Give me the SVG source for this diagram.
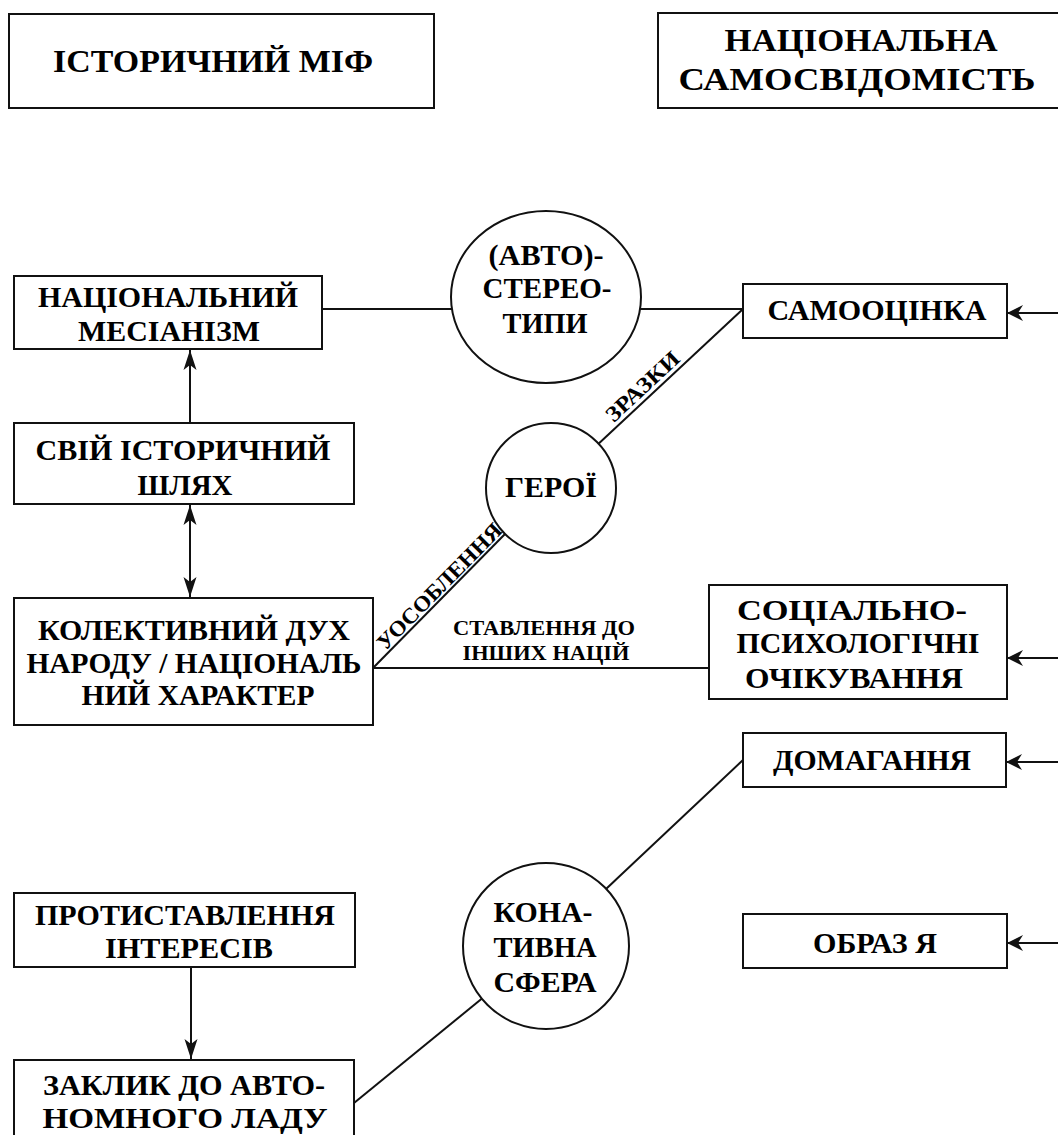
<svg xmlns="http://www.w3.org/2000/svg" width="1058" height="1135" viewBox="0 0 1058 1135">
<style>
  .box { fill: #fff; stroke: #111; stroke-width: 2; }
  .ell { fill: #fff; stroke: #111; stroke-width: 2; }
  .t { font-family: "Liberation Serif", "Times New Roman", serif; font-weight: bold; fill: #000; text-anchor: middle; }
  .f32 { font-size: 32px; }
  .f30 { font-size: 30px; }
  .f22 { font-size: 22px; }
  .ln { stroke: #111; stroke-width: 2; fill: none; }
  .arr { marker-end: url(#ah); }
  .varr { marker-end: url(#av); }
  .darr { marker-start: url(#av); marker-end: url(#av); }
</style>
<defs>
  <marker id="ah" viewBox="-17 -9 18 18" refX="0" refY="0" markerWidth="18" markerHeight="18" markerUnits="userSpaceOnUse" orient="auto-start-reverse">
    <path d="M0,0 L-16,-8 L-11,0 L-16,8 Z" fill="#111"/>
  </marker>
  <marker id="av" viewBox="-21 -8 22 16" refX="0" refY="0" markerWidth="22" markerHeight="16" markerUnits="userSpaceOnUse" orient="auto-start-reverse">
    <path d="M0,0 L-20,-6.5 L-15,0 L-20,6.5 Z" fill="#111"/>
  </marker>
</defs>
<rect width="1058" height="1135" fill="#fff"/>

<g id="connectors">
  <line class="ln" x1="322" y1="309" x2="452" y2="309"/>
  <line class="ln" x1="640" y1="309" x2="743" y2="309"/>
  <line class="ln" x1="598.5" y1="443.7" x2="743" y2="309"/>
  <line class="ln" x1="505" y1="534" x2="373" y2="668"/>
  <line class="ln" x1="373" y1="668" x2="709" y2="668"/>
  <line class="ln varr" x1="190" y1="423" x2="190" y2="350"/>
  <line class="ln darr" x1="190" y1="505" x2="190" y2="597"/>
  <line class="ln arr" x1="1060" y1="313" x2="1007" y2="313"/>
  <line class="ln arr" x1="1060" y1="658" x2="1007" y2="658"/>
  <line class="ln arr" x1="1060" y1="762" x2="1006" y2="762"/>
  <line class="ln arr" x1="1060" y1="943" x2="1007" y2="943"/>
  <line class="ln" x1="743" y1="760" x2="606" y2="889"/>
  <line class="ln" x1="482" y1="998.5" x2="354" y2="1103"/>
  <line class="ln varr" x1="191" y1="967" x2="191" y2="1059"/>
  <text class="t f22" transform="translate(647.5,391.8) rotate(-43)" textLength="92" lengthAdjust="spacingAndGlyphs">ЗРАЗКИ</text>
  <text class="t f22" transform="translate(444.5,591.5) rotate(-45.4)" textLength="168" lengthAdjust="spacingAndGlyphs">УОСОБЛЕННЯ</text>
  <text class="t f22" x="544" y="635" textLength="182" lengthAdjust="spacingAndGlyphs">СТАВЛЕННЯ ДО</text>
  <text class="t f22" x="546" y="660" textLength="167" lengthAdjust="spacingAndGlyphs">ІНШИХ НАЦІЙ</text>
</g>

<g id="node-istorychnyi-mif">
  <rect class="box" x="9" y="14" width="425" height="94"/>
  <text class="t f32" x="213" y="72" textLength="320" lengthAdjust="spacingAndGlyphs">ІСТОРИЧНИЙ МІФ</text>
</g>
<g id="node-natsionalna-samosvidomist">
  <rect class="box" x="658" y="13" width="410" height="95"/>
  <text class="t f32" x="861" y="51" textLength="273" lengthAdjust="spacingAndGlyphs">НАЦІОНАЛЬНА</text>
  <text class="t f32" x="857" y="90" textLength="357" lengthAdjust="spacingAndGlyphs">САМОСВІДОМІСТЬ</text>
</g>
<g id="node-mesianizm">
  <rect class="box" x="14" y="276" width="308" height="73"/>
  <text class="t f30" x="168" y="307" textLength="260" lengthAdjust="spacingAndGlyphs">НАЦІОНАЛЬНИЙ</text>
  <text class="t f30" x="169" y="341" textLength="182" lengthAdjust="spacingAndGlyphs">МЕСІАНІЗМ</text>
</g>
<g id="node-shliakh">
  <rect class="box" x="14" y="423" width="340" height="81"/>
  <text class="t f30" x="183" y="460" textLength="295" lengthAdjust="spacingAndGlyphs">СВІЙ ІСТОРИЧНИЙ</text>
  <text class="t f30" x="185" y="495" textLength="95" lengthAdjust="spacingAndGlyphs">ШЛЯХ</text>
</g>
<g id="node-kolektyvnyi-dukh">
  <rect class="box" x="14" y="598" width="359" height="127"/>
  <text class="t f30" x="194" y="640" textLength="312" lengthAdjust="spacingAndGlyphs">КОЛЕКТИВНИЙ ДУХ</text>
  <text class="t f30" x="194" y="673" textLength="335" lengthAdjust="spacingAndGlyphs">НАРОДУ / НАЦІОНАЛЬ</text>
  <text class="t f30" x="198" y="705" textLength="233" lengthAdjust="spacingAndGlyphs">НИЙ ХАРАКТЕР</text>
</g>
<g id="node-avtostereotypy">
  <ellipse class="ell" cx="546" cy="297" rx="95" ry="86"/>
  <text class="t f30" x="546" y="265" textLength="115" lengthAdjust="spacingAndGlyphs">(АВТО)-</text>
  <text class="t f30" x="547" y="298" textLength="129" lengthAdjust="spacingAndGlyphs">СТЕРЕО-</text>
  <text class="t f30" x="545" y="333" textLength="85" lengthAdjust="spacingAndGlyphs">ТИПИ</text>
</g>
<g id="node-heroi">
  <circle class="ell" cx="551" cy="488" r="65"/>
  <text class="t f30" x="551" y="497" textLength="92" lengthAdjust="spacingAndGlyphs">ГЕРОЇ</text>
</g>
<g id="node-samootsinka">
  <rect class="box" x="743" y="284" width="264" height="54"/>
  <text class="t f30" x="877" y="320" textLength="219" lengthAdjust="spacingAndGlyphs">САМООЦІНКА</text>
</g>
<g id="node-ochikuvannia">
  <rect class="box" x="709" y="585" width="298" height="114"/>
  <text class="t f30" x="852" y="620" textLength="230" lengthAdjust="spacingAndGlyphs">СОЦІАЛЬНО-</text>
  <text class="t f30" x="858" y="653" textLength="243" lengthAdjust="spacingAndGlyphs">ПСИХОЛОГІЧНІ</text>
  <text class="t f30" x="854" y="688" textLength="218" lengthAdjust="spacingAndGlyphs">ОЧІКУВАННЯ</text>
</g>
<g id="node-domagannia">
  <rect class="box" x="743" y="733" width="263" height="54"/>
  <text class="t f30" x="872" y="770" textLength="198" lengthAdjust="spacingAndGlyphs">ДОМАГАННЯ</text>
</g>
<g id="node-konatyvna-sfera">
  <circle class="ell" cx="546" cy="946" r="83"/>
  <text class="t f30" x="543" y="922" textLength="99" lengthAdjust="spacingAndGlyphs">КОНА-</text>
  <text class="t f30" x="545" y="957" textLength="103" lengthAdjust="spacingAndGlyphs">ТИВНА</text>
  <text class="t f30" x="545" y="992" textLength="103" lengthAdjust="spacingAndGlyphs">СФЕРА</text>
</g>
<g id="node-obraz-ya">
  <rect class="box" x="743" y="914" width="264" height="54"/>
  <text class="t f30" x="875" y="953" textLength="124" lengthAdjust="spacingAndGlyphs">ОБРАЗ Я</text>
</g>
<g id="node-protystavlennia">
  <rect class="box" x="14" y="893" width="341" height="74"/>
  <text class="t f30" x="185" y="925" textLength="300" lengthAdjust="spacingAndGlyphs">ПРОТИСТАВЛЕННЯ</text>
  <text class="t f30" x="189" y="958" textLength="168" lengthAdjust="spacingAndGlyphs">ІНТЕРЕСІВ</text>
</g>
<g id="node-zaklyk">
  <rect class="box" x="14" y="1060" width="340" height="90"/>
  <text class="t f30" x="184" y="1095" textLength="282" lengthAdjust="spacingAndGlyphs">ЗАКЛИК ДО АВТО-</text>
  <text class="t f30" x="185" y="1128" textLength="285" lengthAdjust="spacingAndGlyphs">НОМНОГО ЛАДУ</text>
</g>
</svg>
